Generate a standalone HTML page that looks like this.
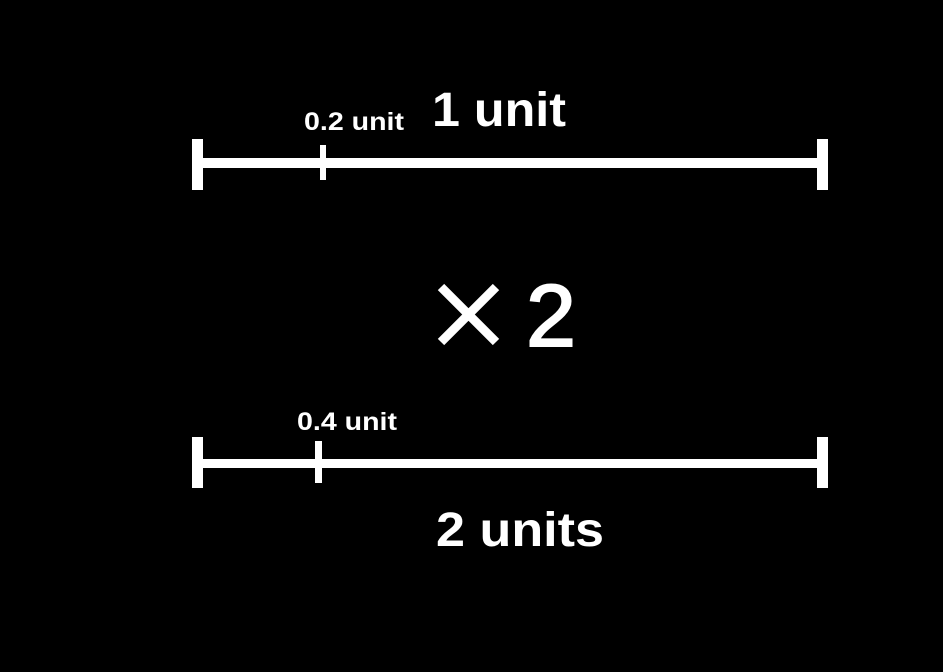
<!DOCTYPE html>
<html><head><meta charset="utf-8"><style>
html,body{margin:0;padding:0;background:#000;}
svg{display:block}
text{font-family:"Liberation Sans",sans-serif;fill:#fff;}
</style></head><body>
<svg width="943" height="672" viewBox="0 0 943 672">
<rect width="943" height="672" fill="#000"/>
<!-- top ruler -->
<rect x="192" y="158" width="636" height="10" fill="#fff"/>
<rect x="192" y="139" width="11" height="51" fill="#fff"/>
<rect x="817" y="139" width="11" height="51" fill="#fff"/>
<rect x="320" y="145" width="6" height="35" fill="#fff"/>
<text x="432" y="126" font-size="48" font-weight="bold" textLength="134" lengthAdjust="spacingAndGlyphs">1 unit</text>
<text x="304" y="130" font-size="25" font-weight="bold" textLength="100" lengthAdjust="spacingAndGlyphs">0.2 unit</text>
<!-- x2 -->
<path d="M441 287 L496 342 M496 287 L441 342" stroke="#fff" stroke-width="9" fill="none"/>
<text x="526" y="346" font-size="88" stroke="#fff" stroke-width="2" textLength="50" lengthAdjust="spacingAndGlyphs">2</text>
<!-- bottom ruler -->
<rect x="192" y="459" width="636" height="9" fill="#fff"/>
<rect x="192" y="437" width="11" height="51" fill="#fff"/>
<rect x="817" y="437" width="11" height="51" fill="#fff"/>
<rect x="315" y="441" width="7" height="42" fill="#fff"/>
<text x="297" y="430" font-size="25" font-weight="bold" textLength="100" lengthAdjust="spacingAndGlyphs">0.4 unit</text>
<text x="436" y="546" font-size="48" font-weight="bold" textLength="168" lengthAdjust="spacingAndGlyphs">2 units</text>
</svg>
</body></html>
